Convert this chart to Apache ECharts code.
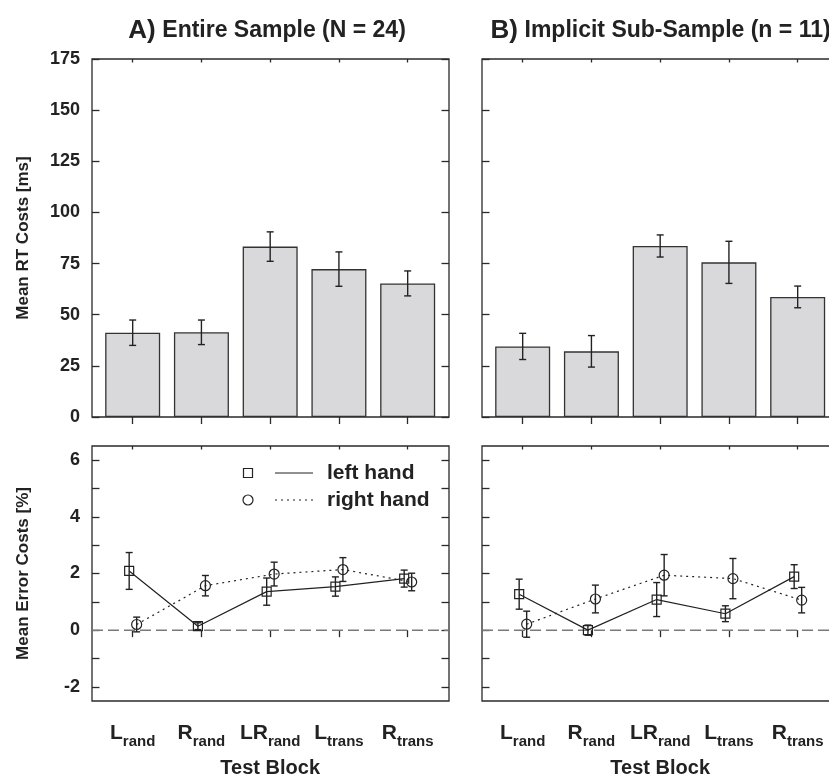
<!DOCTYPE html>
<html><head><meta charset="utf-8">
<script src="https://cdn.jsdelivr.net/npm/echarts@6/dist/echarts.min.js"></script>
<style>html,body{margin:0;padding:0;background:#fff}#c{width:829px;height:775px}</style>
</head><body><div id="c"></div>
<script>
// ---- data ----
const catMain = ['L', 'R', 'LR', 'L', 'R'];
const catSub = ['rand', 'rand', 'rand', 'trans', 'trans'];
const rtA = [41.2, 41.4, 83.3, 72.3, 65.3];
const rtAErr = [6.2, 6.0, 7.2, 8.4, 6.1];
const rtB = [34.5, 32.1, 83.6, 75.6, 58.7];
const rtBErr = [6.4, 7.7, 5.4, 10.3, 5.3];
const errALeft = [2.09, 0.14, 1.36, 1.54, 1.82];
const errALeftSE = [0.65, 0.12, 0.48, 0.34, 0.30];
const errARight = [0.20, 1.57, 1.98, 2.14, 1.70];
const errARightSE = [0.26, 0.36, 0.42, 0.42, 0.31];
const errBLeft = [1.27, 0.00, 1.08, 0.58, 1.89];
const errBLeftSE = [0.53, 0.18, 0.60, 0.28, 0.42];
const errBRight = [0.21, 1.10, 1.94, 1.82, 1.06];
const errBRightSE = [0.46, 0.49, 0.73, 0.71, 0.45];
const zeroLine = [0, 0];

// ---- style ----
const FONT = "'Liberation Sans', Arial, sans-serif";
const NARROW = "'Liberation Sans Narrow', 'Liberation Sans', Arial, sans-serif";
const INK = '#222';
const AXC = '#2a2a2a';

const frames = [
  {left: 92, top: 59, width: 357, height: 358},
  {left: 482, top: 59, width: 357, height: 358},
  {left: 92, top: 446, width: 357, height: 255},
  {left: 482, top: 446, width: 357, height: 255}
];
const padL = 6.3, dataW = 343.75;
const dataV = [
  {top: 59, height: 358, min: 0, max: 175, interval: 25},
  {top: 59, height: 358, min: 0, max: 175, interval: 25},
  {top: 460.2, height: 226.6, min: -2, max: 6, interval: 1},
  {top: 460.2, height: 226.6, min: -2, max: 6, interval: 1}
];

const grid = [], xAxis = [], yAxis = [], series = [];
// frame grids 0..3
frames.forEach((f, p) => {
  grid.push({left: f.left, top: f.top, width: f.width, height: f.height, show: true,
    borderColor: AXC, borderWidth: 1.3, backgroundColor: 'transparent', containLabel: false, outerBoundsMode: 'none'});
  xAxis.push({gridIndex: p, type: 'value', min: 0, max: 1, show: false});
  yAxis.push({gridIndex: p, type: 'value', min: p < 2 ? 0 : -2.5, max: p < 2 ? 175 : 6.5, show: false});
});
// data grids 4..7
frames.forEach((f, p) => {
  const d = dataV[p];
  grid.push({left: f.left + padL, top: d.top, width: dataW, height: d.height, show: false,
    containLabel: false, outerBoundsMode: 'none'});
});
// y-axis grids 8..11
frames.forEach((f, p) => {
  const d = dataV[p];
  grid.push({left: f.left, top: d.top, width: f.width, height: d.height, show: false,
    containLabel: false, outerBoundsMode: 'none'});
});

const tickStyle = {color: AXC, width: 1.3};
frames.forEach((f, p) => {
  const g = 4 + p;
  const d = dataV[p];
  const isBottom = p >= 2;
  const botOff = (f.top + f.height) - (d.top + d.height);
  const topOff = d.top - f.top;
  xAxis.push({
    gridIndex: g, type: 'category', data: catMain, position: 'bottom', offset: botOff,
    boundaryGap: true, axisLine: {show: false},
    axisTick: {show: true, alignWithLabel: true, interval: 0, length: 7, inside: false, lineStyle: tickStyle},
    axisLabel: {show: isBottom, interval: 0, margin: 19,
      formatter: (v, i) => '{m|' + catMain[i] + '}{s|' + catSub[i] + '}',
      rich: {
        m: {fontFamily: NARROW, fontWeight: 'bold', fontSize: 21, color: INK, lineHeight: 24, verticalAlign: 'bottom'},
        s: {fontFamily: NARROW, fontWeight: 'bold', fontSize: 15, color: INK, lineHeight: 24, verticalAlign: 'bottom', padding: [0, 0, -5, 0]}
      }},
    name: isBottom ? 'Test Block' : '', nameLocation: 'middle', nameGap: 57,
    nameTextStyle: {fontFamily: NARROW, fontWeight: 'bold', fontSize: 20, color: INK}
  });
  xAxis.push({
    gridIndex: g, type: 'category', data: catMain, position: 'top', offset: topOff,
    boundaryGap: true, axisLine: {show: false},
    axisTick: {show: true, alignWithLabel: true, interval: 0, length: 3.5, inside: true, lineStyle: tickStyle},
    axisLabel: {show: false}
  });
  xAxis.push({gridIndex: g, type: 'value', min: 0, max: 5, show: false});
});
// hidden y axes for data grids 4..7
frames.forEach((f, p) => {
  const d = dataV[p];
  yAxis.push({gridIndex: 4 + p, type: 'value', min: d.min, max: d.max, show: false});
});
// hidden x axes for y-axis grids 16..19
frames.forEach((f, p) => {
  xAxis.push({gridIndex: 8 + p, type: 'value', min: 0, max: 1, show: false});
});
// visible y axes on y-axis grids: left 8+2p, right 9+2p
frames.forEach((f, p) => {
  const d = dataV[p];
  const isBottom = p >= 2;
  const isLeft = p % 2 === 0;
  yAxis.push({
    gridIndex: 8 + p, type: 'value', position: 'left', min: d.min, max: d.max, interval: d.interval,
    axisLine: {show: false}, splitLine: {show: false},
    axisTick: {show: true, inside: true, length: 7.5, lineStyle: tickStyle},
    axisLabel: {show: isLeft, margin: 12, fontFamily: FONT, fontWeight: 'bold', fontSize: 18, color: INK,
      formatter: v => (isBottom ? (v % 2 === 0 ? String(v) : '') : String(v))},
    name: isLeft ? (isBottom ? 'Mean Error Costs [%]' : 'Mean RT Costs [ms]') : '',
    nameLocation: 'middle', nameRotate: 90, nameGap: 60,
    nameTextStyle: {fontFamily: FONT, fontWeight: 'bold', fontSize: 17, color: INK}
  });
  yAxis.push({
    gridIndex: 8 + p, type: 'value', position: 'right', min: d.min, max: d.max, interval: d.interval,
    axisLine: {show: false}, splitLine: {show: false},
    axisTick: {show: true, inside: true, length: 7.5, lineStyle: tickStyle},
    axisLabel: {show: false}
  });
});

function xCat(p) { return 4 + 3 * p; }
function xVal(p) { return 6 + 3 * p; }
function yD(p) { return 4 + p; }

function errorBars(p, means, errs, off) {
  return {
    type: 'custom', xAxisIndex: xVal(p), yAxisIndex: yD(p), z: 5, silent: true,
    data: means.map((m, i) => [i + 0.5 + off, m - errs[i], m + errs[i]]),
    encode: {x: 0, y: [1, 2]},
    renderItem: (params, api) => {
      const x = api.value(0);
      const lo = api.coord([x, api.value(1)]);
      const hi = api.coord([x, api.value(2)]);
      const hw = 3.5;
      const st = {stroke: INK, lineWidth: 1.4};
      return {type: 'group', children: [
        {type: 'line', shape: {x1: lo[0], y1: lo[1], x2: hi[0], y2: hi[1]}, style: st},
        {type: 'line', shape: {x1: lo[0] - hw, y1: lo[1], x2: lo[0] + hw, y2: lo[1]}, style: st},
        {type: 'line', shape: {x1: hi[0] - hw, y1: hi[1], x2: hi[0] + hw, y2: hi[1]}, style: st}
      ]};
    }
  };
}

function bars(p, vals) {
  return {type: 'bar', xAxisIndex: xCat(p), yAxisIndex: yD(p), data: vals, barWidth: '80%', silent: true,
    itemStyle: {color: '#d9d9db', borderColor: '#333', borderWidth: 1.3}};
}

const OFF_L = -0.051, OFF_R = 0.058;
function handLine(p, vals, dotted, symbol, off) {
  return {type: 'line', xAxisIndex: xVal(p), yAxisIndex: yD(p), silent: true, z: 4,
    data: vals.map((v, i) => [i + 0.5 + off, v]),
    symbol: symbol, symbolSize: symbol === 'rect' ? 9 : 10, showSymbol: true,
    lineStyle: {color: INK, width: 1.2, type: dotted ? [2, 4] : 'solid'},
    itemStyle: {color: 'rgba(0,0,0,0)', borderColor: INK, borderWidth: 1.2}};
}

function zero(p) {
  return {type: 'line', xAxisIndex: p, yAxisIndex: p, silent: true, z: 1, symbol: 'none',
    data: zeroLine.map((v, i) => [i, v]),
    lineStyle: {color: '#7a7a7a', width: 1.5, type: [11, 5]}};
}

series.push(bars(0, rtA), errorBars(0, rtA, rtAErr, 0));
series.push(bars(1, rtB), errorBars(1, rtB, rtBErr, 0));
series.push(zero(2), zero(3));
series.push(handLine(2, errALeft, false, 'rect', OFF_L), errorBars(2, errALeft, errALeftSE, OFF_L));
series.push(handLine(2, errARight, true, 'circle', OFF_R), errorBars(2, errARight, errARightSE, OFF_R));
series.push(handLine(3, errBLeft, false, 'rect', OFF_L), errorBars(3, errBLeft, errBLeftSE, OFF_L));
series.push(handLine(3, errBRight, true, 'circle', OFF_R), errorBars(3, errBRight, errBRightSE, OFF_R));

const titleRich = {
  a: {fontFamily: NARROW, fontWeight: 'bold', fontSize: 26, fill: INK},
  b: {fontFamily: NARROW, fontWeight: 'bold', fontSize: 23, fill: INK}
};
const graphic = [
  {type: 'text', x: 267, y: 31, style: {text: '{a|A)}  {b|Entire Sample (N = 24)}', rich: titleRich, align: 'center', verticalAlign: 'middle'}},
  {type: 'text', x: 660.5, y: 31, style: {text: '{a|B)}  {b|Implicit Sub-Sample (n = 11)}', rich: titleRich, align: 'center', verticalAlign: 'middle'}},
  // legend
  {type: 'rect', shape: {x: 243.5, y: 468.5, width: 9, height: 9}, style: {fill: 'none', stroke: INK, lineWidth: 1.2}},
  {type: 'line', shape: {x1: 275, y1: 473, x2: 313, y2: 473}, style: {stroke: INK, lineWidth: 1.2}},
  {type: 'text', x: 327, y: 473, style: {text: 'left hand', font: "bold 21px " + FONT, fill: INK, verticalAlign: 'middle'}},
  {type: 'circle', shape: {cx: 248, cy: 500, r: 5}, style: {fill: 'none', stroke: INK, lineWidth: 1.2}},
  {type: 'line', shape: {x1: 275, y1: 500, x2: 313, y2: 500}, style: {stroke: INK, lineWidth: 1.2, lineDash: [2, 4]}},
  {type: 'text', x: 327, y: 500, style: {text: 'right hand', font: "bold 21px " + FONT, fill: INK, verticalAlign: 'middle'}}
];

const chart = echarts.init(document.getElementById('c'), null, {renderer: 'canvas'});
chart.setOption({
  animation: false,
  backgroundColor: '#fff',
  textStyle: {fontFamily: FONT},
  grid, xAxis, yAxis, series, graphic
});
</script>
</body></html>
